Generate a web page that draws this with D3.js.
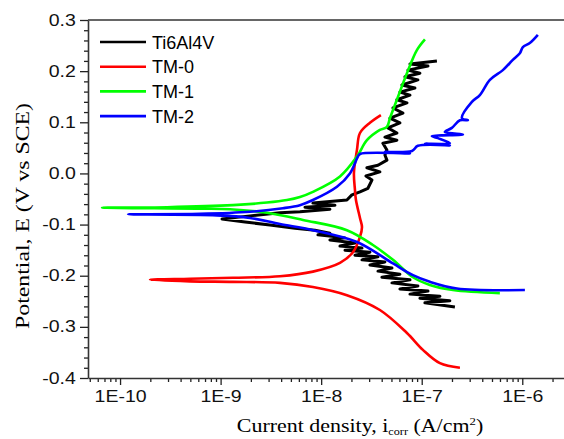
<!DOCTYPE html>
<html>
<head>
<meta charset="utf-8">
<script src="https://cdn.jsdelivr.net/npm/d3@7"></script>
<style>
  body { margin: 0; background: #fff; }
  svg { display: block; }
</style>
</head>
<body>
<div id="chart"></div>
<script>
// Data: [log10 current density (A/cm2), potential (V vs SCE)]
const ti6al4v = [
  [-6.670,-0.261],[-6.968,-0.253],[-6.720,-0.249],[-7.018,-0.244],[-6.819,-0.240],[-7.117,-0.236],
  [-6.938,-0.230],[-7.217,-0.226],[-7.038,-0.220],[-7.296,-0.214],[-7.117,-0.208],[-7.396,-0.203],
  [-7.217,-0.197],[-7.435,-0.191],[-7.296,-0.185],[-7.515,-0.179],[-7.366,-0.173],[-7.594,-0.169],
  [-7.435,-0.163],[-7.664,-0.160],[-7.515,-0.154],[-7.763,-0.150],[-7.594,-0.146],[-7.813,-0.142],
  [-7.664,-0.136],[-7.913,-0.130],[-7.763,-0.126],[-8.032,-0.120],[-7.913,-0.117],[-8.062,-0.111],
  [-8.261,-0.107],[-8.509,-0.101],[-8.757,-0.095],[-8.986,-0.089],
  [-8.708,-0.083],[-8.410,-0.077],[-8.211,-0.075],[-7.913,-0.070],[-8.161,-0.066],[-7.863,-0.062],
  [-8.082,-0.058],[-7.744,-0.052],[-7.694,-0.042],[-7.614,-0.036],[-7.535,-0.029],[-7.495,-0.013],
  [-7.555,-0.005],[-7.416,0.003],[-7.545,0.011],[-7.435,0.016],[-7.346,0.026],[-7.366,0.036],
  [-7.346,0.046],[-7.386,0.059],[-7.247,0.065],[-7.366,0.071],[-7.247,0.079],[-7.336,0.089],
  [-7.217,0.099],[-7.316,0.108],[-7.187,0.118],[-7.286,0.128],[-7.147,0.138],[-7.247,0.144],
  [-7.117,0.153],[-7.217,0.159],[-7.068,0.167],[-7.197,0.173],[-7.038,0.183],[-7.167,0.189],
  [-7.018,0.196],[-7.137,0.202],[-6.938,0.210],[-7.117,0.214],[-6.849,0.220]
]
const tm0 = [
  [-6.620,-0.380],[-6.819,-0.371],[-6.988,-0.345],[-7.147,-0.312],[-7.416,-0.267],[-7.744,-0.238],
  [-8.082,-0.222],[-8.410,-0.214],[-8.877,-0.212],[-9.304,-0.211],[-9.702,-0.208],
  [-9.304,-0.206],[-8.877,-0.204],[-8.410,-0.201],[-8.082,-0.192],[-7.813,-0.175],[-7.684,-0.154],
  [-7.614,-0.124],[-7.594,-0.105],[-7.614,-0.087],[-7.654,-0.052],[-7.664,-0.032],[-7.674,0.001],
  [-7.644,0.046],[-7.614,0.079],[-7.515,0.099],[-7.406,0.114]
]
const tm1 = [
  [-6.223,-0.234],[-6.690,-0.228],[-6.919,-0.218],[-7.087,-0.203],[-7.286,-0.169],[-7.485,-0.140],
  [-7.744,-0.111],[-8.181,-0.091],[-8.539,-0.077],[-8.907,-0.070],[-9.205,-0.069],[-10.179,-0.067],
  [-9.533,-0.066],[-8.877,-0.062],[-8.539,-0.057],[-8.340,-0.052],[-8.211,-0.046],[-8.082,-0.036],
  [-7.813,-0.006],[-7.644,0.033],[-7.545,0.065],[-7.416,0.085],[-7.346,0.091],[-7.316,0.108],
  [-7.247,0.144],[-7.147,0.196],[-7.048,0.241],[-6.968,0.262]
]
const tm2 = [
  [-5.974,-0.228],[-6.650,-0.225],[-6.919,-0.212],[-7.087,-0.199],[-7.286,-0.176],[-7.644,-0.134],
  [-8.082,-0.111],[-8.410,-0.099],[-8.708,-0.087],[-9.036,-0.082],[-9.920,-0.080],
  [-9.205,-0.079],[-8.708,-0.075],[-8.380,-0.068],[-8.211,-0.062],[-8.082,-0.052],[-7.843,-0.026],
  [-7.714,0.000],[-7.634,0.033],[-7.614,0.038],[-7.117,0.039],[-7.366,0.042],[-7.097,0.044],
  [-7.038,0.054],[-6.720,0.055],[-6.968,0.058],[-6.720,0.059],[-6.839,0.069],[-6.899,0.073],
  [-6.590,0.076],[-6.770,0.081],[-6.700,0.089],[-6.620,0.104],[-6.541,0.104],[-6.600,0.108],
  [-6.501,0.140],[-6.422,0.153],[-6.322,0.183],[-6.193,0.202],[-6.094,0.222],[-6.024,0.235],
  [-5.994,0.247],[-5.925,0.255],[-5.845,0.271]
]
const seriesNames = ['Ti6Al4V', 'TM-0', 'TM-1', 'TM-2']
const seriesData = [ti6al4v, tm0, tm1, tm2]
const seriesColors = ['#000000', '#ff0000', '#00ff00', '#0000ff']
const xMajorTicks = [1e-10, 1e-9, 1e-8, 1e-7, 1e-6]
const yMajorTicks = [-0.4, -0.3, -0.2, -0.1, 0.0, 0.1, 0.2, 0.3]

const width = 564
const height = 439
const margin = {left: 88, top: 20, right: 0, bottom: 61}
const stretch = 'scale(1.22,1)'

const xScale = d3.scaleLog()
  .domain([4.8e-11, 2.6e-6])
  .range([margin.left, width - margin.right])
const yScale = d3.scaleLinear()
  .domain([-0.4, 0.3])
  .range([height - margin.bottom, margin.top])

const svg = d3.select('#chart')
  .append('svg')
  .attr('width', width)
  .attr('height', height)

// minor ticks
const xMinor = []
for (let e = -11; e <= -6; e++) {
  for (let m = 2; m <= 9; m++) {
    const v = m * Math.pow(10, e)
    if (v > xScale.domain()[0] && v < xScale.domain()[1]) xMinor.push(v)
  }
}
const yMinor = d3.range(-40, 31, 2).filter(d => d % 10 !== 0).map(d => d / 100)

svg.append('g')
  .attr('transform', `translate(0,${yScale(-0.4)})`)
  .call(d3.axisBottom(xScale).tickValues(xMinor).tickSize(4).tickFormat('').tickSizeOuter(0))
  .call(g => g.select('.domain').remove())
svg.append('g')
  .attr('transform', `translate(${margin.left},0)`)
  .call(d3.axisLeft(yScale).tickValues(yMinor).tickSize(4).tickFormat('').tickSizeOuter(0))
  .call(g => g.select('.domain').remove())

const xAxis = svg.append('g')
  .attr('transform', `translate(0,${yScale(-0.4)})`)
  .call(d3.axisBottom(xScale)
    .tickValues(xMajorTicks)
    .tickSize(7)
    .tickSizeOuter(0)
    .tickPadding(6)
    .tickFormat(d => '1E' + Math.round(Math.log10(d))))
const yAxis = svg.append('g')
  .attr('transform', `translate(${margin.left},0)`)
  .call(d3.axisLeft(yScale)
    .tickValues(yMajorTicks)
    .tickSize(8)
    .tickSizeOuter(0)
    .tickPadding(2)
    .tickFormat(d => d3.format('.1f')(d).replace('−', '-')))

svg.selectAll('.tick line').attr('stroke', '#222').attr('stroke-width', 1.3)
svg.selectAll('.domain').attr('stroke', '#333').attr('stroke-width', 1.6)
svg.selectAll('.tick text')
  .attr('font-family', '"Liberation Sans", Arial, sans-serif')
  .attr('font-size', 16)
  .attr('fill', '#111')
  .attr('transform', stretch)

// top frame
svg.append('line')
  .attr('x1', margin.left).attr('x2', width)
  .attr('y1', yScale(0.3)).attr('y2', yScale(0.3))
  .attr('stroke', '#333').attr('stroke-width', 1.6)

// curves (noisy Ti6Al4V stays linear, the others are smooth)
const line = d3.line()
  .x(d => xScale(Math.pow(10, d[0])))
  .y(d => yScale(d[1]))
const smoothLine = d3.line()
  .curve(d3.curveCatmullRom.alpha(0.5))
  .x(d => xScale(Math.pow(10, d[0])))
  .y(d => yScale(d[1]))

svg.append('g')
  .selectAll('path')
  .data(seriesData)
  .join('path')
  .attr('d', (d, i) => i === 0 ? line(d) : smoothLine(d))
  .attr('fill', 'none')
  .attr('stroke', (d, i) => seriesColors[i])
  .attr('stroke-width', (d, i) => i === 0 ? 3 : 2.6)
  .attr('stroke-linejoin', 'round')

// legend
const legend = svg.append('g')
  .attr('transform', 'translate(100,42)')
const item = legend.selectAll('g')
  .data(seriesNames)
  .join('g')
  .attr('transform', (d, i) => `translate(0,${i * 24.7})`)
item.append('line')
  .attr('x1', 0).attr('x2', 46)
  .attr('stroke', (d, i) => seriesColors[i])
  .attr('stroke-width', 2.6)
item.append('text')
  .attr('x', 52)
  .attr('y', 6.5)
  .attr('font-family', '"Liberation Sans", Arial, sans-serif')
  .attr('font-size', 18)
  .text(d => d)

// axis titles
const xTitle = svg.append('text')
  .attr('transform', `translate(360,432) ${stretch}`)
  .attr('text-anchor', 'middle')
  .attr('font-family', '"Liberation Serif", "Times New Roman", serif')
  .attr('font-size', 18)
xTitle.append('tspan').text('Current density, i')
xTitle.append('tspan').attr('font-size', 10).attr('dy', 3).text('corr')
xTitle.append('tspan').attr('dy', -3).text(' (A/cm')
xTitle.append('tspan').attr('font-size', 10.5).attr('dy', -7).text('2')
xTitle.append('tspan').attr('dy', 7).text(')')

svg.append('text')
  .attr('transform', 'translate(29,216) rotate(-90) scale(1.25,1)')
  .attr('text-anchor', 'middle')
  .attr('font-family', '"Liberation Serif", "Times New Roman", serif')
  .attr('font-size', 19)
  .text('Potential, E (V vs SCE)')
</script>
</body>
</html>
